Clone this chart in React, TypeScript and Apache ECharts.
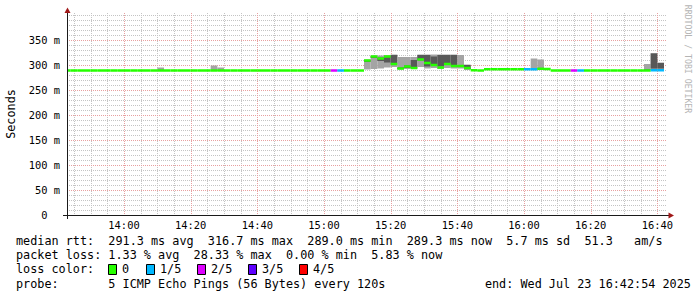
import React, { useEffect, useRef } from "react";
import * as echarts from "echarts";

// x values: minutes after 13:00 on Wed Jul 23 2025; one RRD step = 2 minutes
const START = 42.9; // 13:42:54
const END = 222.9; // 16:42:54
const STEP = 2;

const stepMinutes = [
  42, 44, 46, 48, 50, 52, 54, 56, 58, 60,
  62, 64, 66, 68, 70, 72, 74, 76, 78, 80,
  82, 84, 86, 88, 90, 92, 94, 96, 98, 100,
  102, 104, 106, 108, 110, 112, 114, 116, 118, 120,
  122, 124, 126, 128, 130, 132, 134, 136, 138, 140,
  142, 144, 146, 148, 150, 152, 154, 156, 158, 160,
  162, 164, 166, 168, 170, 172, 174, 176, 178, 180,
  182, 184, 186, 188, 190, 192, 194, 196, 198, 200,
  202, 204, 206, 208, 210, 212, 214, 216, 218, 220,
  222,
];

// median rtt in ms
const medianRtt: (number | null)[] = [
  289, 289, 289, 289, 289, 289, 289, 289, 289, 289,
  289, 289, 289, 289, 289, 289, 289, 289, 289, 289,
  289, 289, 289, 289, 289, 289, 289, 289, 289, 289,
  289, 289, 289, 289, 289, 289, 289, 289, 289, 289,
  289, 289, 289, 289, 289, 309, 317, 313, 317, 302,
  293, 297, 294, 311, 304, 300, 295, 302, 298, 298,
  294, 289.5, 289, 291.5, 291.5, 291.5, 291.5, 291.5, 291.5, 291.5,
  291.5, 292.5, 292, 289, 289, 289, 289, 289, 289, 289,
  289, 289, 289, 289, 289, 289, 289, 289, 289.5, 289.5,
  null,
];

// lost pings out of 5
const lossFifths: (number | null)[] = [
  0, 0, 0, 0, 0, 0, 0, 0, 0, 0,
  0, 0, 0, 0, 0, 0, 0, 0, 0, 0,
  0, 0, 0, 0, 0, 0, 0, 0, 0, 0,
  0, 0, 0, 0, 0, 0, 0, 0, 0, 0,
  2, 1, 0, 0, 0, 0, 0, 0, 0, 0,
  0, 0, 0, 0, 0, 0, 0, 0, 0, 0,
  0, 0, 0, 0, 0, 0, 0, 0, 0, 1,
  1, 0, 0, 0, 0, 0, 2, 1, 0, 0,
  0, 0, 0, 0, 0, 0, 0, 0, 1, 1,
  null,
];

// smoke (sorted pings): min, 2nd, 4th, max (ms) for steps where it is visible
const smokeStep = [70, 86, 88, 132, 134, 136, 138, 140, 142, 144, 146, 148, 150, 152, 154, 156, 158, 160, 162, 182, 184, 216, 218, 220];
const smokeMin = [289, 289, 289, 291, 292, 293, 295, 296, 291, 292, 292, 296, 293, 294, 292, 294, 293, 293, 290, 290, 291, 289, 290, 290];
const smokeLow = [289, 289, 289, 306, 314, 308, 305, 301, 292, 294, 295, 309, 297, 301, 297, 303, 299, 296, 292, 291, 292, 290, 293, 293];
const smokeHigh = [290, 290, 290, 310, 318, 315, 318, 320, 295, 299, 310, 320, 320, 317, 320, 320, 320, 299, 300, 292, 293, 291, 323, 304];
const smokeMax = [295, 299, 295, 311, 319, 319, 320, 321, 316, 316, 316, 321, 321, 321, 321, 321, 321, 320, 301, 313, 311, 302, 324, 305];

// grid / tick values
const xMajor = [60, 80, 100, 120, 140, 160, 180, 200, 220];
const xMinor = [45, 50, 55, 65, 70, 75, 85, 90, 95, 105, 110, 115, 125, 130, 135, 145, 150, 155, 165, 170, 175, 185, 190, 195, 205, 210, 215];
const yMajor = [50, 100, 150, 200, 250, 300, 350];
const yMinor = [10, 20, 30, 40, 60, 70, 80, 90, 110, 120, 130, 140, 160, 170, 180, 190, 210, 220, 230, 240, 260, 270, 280, 290, 310, 320, 330, 340, 360, 370, 380, 390, 400];
const yTickLabels = [0, 50, 100, 150, 200, 250, 300, 350];
const Y_UNIT = "m";

const lossLegend = [
  { label: "0", color: "#26ff00" },
  { label: "1/5", color: "#00b8ff" },
  { label: "2/5", color: "#dd00ff" },
  { label: "3/5", color: "#5e00ff" },
  { label: "4/5", color: "#ff0000" },
];
const LOSS_COLORS = ["#26ff00", "#00b8ff", "#dd00ff", "#5e00ff", "#ff0000"];

const MONO = '"DejaVu Sans Mono", "Liberation Mono", monospace';
const LEG_FS = 11.8;
const CW = LEG_FS * 0.6021;
const LEG_X = 16;
const AX_FS = 10.4;
const AX_CW = AX_FS * 0.6021;

const legendRows: { y: number; tokens: [number, string][] }[] = [
  {
    y: 241,
    tokens: [
      [0, "median rtt:"], [13, "291.3 ms avg"], [27, "316.7 ms max"], [41, "289.0 ms min"],
      [55, "289.3 ms now"], [69, "5.7 ms sd"], [80, "51.3"], [87, "am/s"],
    ],
  },
  {
    y: 255,
    tokens: [[0, "packet loss:"], [13, "1.33 % avg"], [25, "28.33 % max"], [38, "0.00 % min"], [50, "5.83 % now"]],
  },
  { y: 269, tokens: [[0, "loss color:"]] },
  {
    y: 283.5,
    tokens: [[0, "probe:"], [13, "5 ICMP Echo Pings (56 Bytes) every 120s"], [66, "end: Wed Jul 23 16:42:54 2025"]],
  },
];
const lossBoxX = [108, 146, 197, 248, 299];

function fmtTime(v: number) {
  const h = 13 + Math.floor(v / 60);
  const m = Math.round(v % 60);
  return `${h}:${m < 10 ? "0" + m : m}`;
}

// half-height of the median band, in ms (SmokePing draws median as a thin area)
const SW = 2.5;

export default function App() {
  const ref = useRef<HTMLDivElement>(null);
  useEffect(() => {
    if (!ref.current) return;
    const chart = echarts.init(ref.current, undefined, { renderer: "svg" });

    const medianData: number[][] = [];
    stepMinutes.forEach((t, i) => {
      const v = medianRtt[i];
      const l = lossFifths[i];
      if (v != null && l != null) medianData.push([t, v, l]);
    });
    const smokeData = smokeStep.map((t, i) => [t, smokeMin[i], smokeLow[i], smokeHigh[i], smokeMax[i]]);

    const graphics: any[] = [];
    legendRows.forEach((row) => {
      row.tokens.forEach(([col, text]) => {
        graphics.push({
          type: "text",
          x: LEG_X + col * CW,
          y: row.y,
          style: {
            text,
            fontFamily: MONO,
            fontSize: LEG_FS,
            fill: "#000",
            textVerticalAlign: "middle",
            verticalAlign: "middle",
          },
        });
      });
    });
    lossLegend.forEach((e, i) => {
      graphics.push({
        type: "rect",
        shape: { x: lossBoxX[i] + 0.5, y: 264.5, width: 8, height: 10 },
        style: { fill: e.color, stroke: "#000", lineWidth: 1 },
      });
      graphics.push({
        type: "text",
        x: lossBoxX[i] + 14,
        y: 269,
        style: {
          text: e.label,
          fontFamily: MONO,
          fontSize: LEG_FS,
          fill: "#000",
          textVerticalAlign: "middle",
          verticalAlign: "middle",
        },
      });
    });
    // axis title
    graphics.push({
      type: "text",
      x: 11,
      y: 114,
      rotation: Math.PI / 2,
      style: {
        text: "Seconds",
        fontFamily: MONO,
        fontSize: LEG_FS,
        fill: "#000",
        textAlign: "center",
        align: "center",
        textVerticalAlign: "middle",
        verticalAlign: "middle",
      },
    });
    // axes lines and arrows
    graphics.push({
      type: "line",
      shape: { x1: 67.5, y1: 219, x2: 67.5, y2: 12 },
      style: { stroke: "#1a1a1a", lineWidth: 1 },
      z: 10,
    });
    graphics.push({
      type: "line",
      shape: { x1: 63, y1: 215.5, x2: 669, y2: 215.5 },
      style: { stroke: "#1a1a1a", lineWidth: 1 },
      z: 10,
    });
    graphics.push({
      type: "polygon",
      shape: { points: [[64.5, 13], [70.5, 13], [67.5, 7.5]] },
      style: { fill: "#a01818" },
      z: 10,
    });
    graphics.push({
      type: "polygon",
      shape: { points: [[668.5, 212.5], [668.5, 218.5], [674, 215.5]] },
      style: { fill: "#a01818" },
      z: 10,
    });
    graphics.push({
      type: "text",
      x: 688,
      y: 59,
      rotation: -Math.PI / 2,
      style: {
        text: "RRDTOOL / TOBI OETIKER",
        fontFamily: MONO,
        fontSize: 8.2,
        fill: "#b4b4b4",
        textAlign: "center",
        align: "center",
        textVerticalAlign: "middle",
        verticalAlign: "middle",
      },
    });

    const DOT = [1, 1];
    const gridSeries = (data: number[][], vertical: boolean, color: string) => ({
      type: "custom",
      z: 1,
      silent: true,
      clip: false,
      data,
      renderItem: (params: any, api: any) => {
        const cs = params.coordSys;
        if (vertical) {
          const x = Math.round(api.coord([api.value(0), 0])[0]) + 0.5;
          return {
            type: "line",
            shape: { x1: x, y1: cs.y, x2: x, y2: cs.y + cs.height },
            style: { stroke: color, fill: "none", lineWidth: 1, lineDash: DOT },
          };
        }
        const y = Math.round(api.coord([START, api.value(1)])[1]) + 0.5;
        return {
          type: "line",
          shape: { x1: cs.x, y1: y, x2: cs.x + cs.width, y2: y },
          style: { stroke: color, fill: "none", lineWidth: 1, lineDash: DOT },
        };
      },
    });

    const option: any = {
      animation: false,
      backgroundColor: "#ffffff",
      grid: { left: 67, top: 13, width: 600, height: 202, containLabel: false },
      xAxis: {
        type: "value",
        min: START,
        max: END,
        axisLine: { show: false },
        splitLine: { show: false },
        axisTick: { show: false },
        axisLabel: {
          customValues: xMajor,
          formatter: (v: number) => fmtTime(v),
          fontFamily: MONO,
          fontSize: AX_FS,
          color: "#000",
          margin: 5,
        },
      },
      yAxis: {
        type: "value",
        min: 0,
        max: 404,
        axisLine: { show: false },
        splitLine: { show: false },
        axisTick: { show: false },
        axisLabel: { show: false },
      },
      graphic: graphics,
      series: [
        gridSeries(xMinor.map((v) => [v, 0]), true, "#c4c4c4"),
        gridSeries(yMinor.map((v) => [START, v]), false, "#c4c4c4"),
        gridSeries(xMajor.map((v) => [v, 0]), true, "#e8a0a0"),
        gridSeries(yMajor.map((v) => [START, v]), false, "#e8a0a0"),
        {
          // y tick labels, placed through the y scale
          type: "custom",
          z: 5,
          silent: true,
          clip: false,
          data: yTickLabels.map((v) => [START, v]),
          renderItem: (params: any, api: any) => {
            const cs = params.coordSys;
            const v = api.value(1);
            const y = api.coord([START, v])[1];
            const text = v === 0 ? "0" : `${v} ${Y_UNIT}`;
            const right = cs.x - 7 - (v === 0 ? 2 * AX_CW : 0);
            return {
              type: "text",
              x: right,
              y,
              style: {
                text,
                fontFamily: MONO,
                fontSize: AX_FS,
                fill: "#000000",
                textAlign: "right",
                align: "right",
                textVerticalAlign: "middle",
                verticalAlign: "middle",
              },
            };
          },
        },
        {
          type: "custom",
          z: 2,
          clip: true,
          silent: true,
          data: smokeData,
          renderItem: (params: any, api: any) => {
            const t = api.value(0);
            const a = api.coord([t, api.value(1)]);
            const b = api.coord([t + STEP, api.value(4)]);
            const c = api.coord([t, api.value(2)]);
            const d = api.coord([t + STEP, api.value(3)]);
            return {
              type: "group",
              children: [
                { type: "rect", shape: { x: a[0], y: b[1], width: b[0] - a[0], height: a[1] - b[1] }, style: { fill: "#a4a4a4" } },
                { type: "rect", shape: { x: c[0], y: d[1], width: d[0] - c[0], height: c[1] - d[1] }, style: { fill: "#585858" } },
              ],
            };
          },
        },
        {
          type: "custom",
          z: 3,
          clip: true,
          silent: true,
          data: medianData,
          renderItem: (params: any, api: any) => {
            const t = api.value(0);
            const v = api.value(1);
            const loss = api.value(2);
            const hi = api.coord([t, v + SW]);
            const lo = api.coord([t + STEP, v - SW]);
            return {
              type: "rect",
              shape: { x: hi[0], y: hi[1], width: lo[0] - hi[0], height: lo[1] - hi[1] },
              style: { fill: LOSS_COLORS[loss] },
            };
          },
        },
      ],
    };
    chart.setOption(option);
    return () => chart.dispose();
  }, []);

  return (
    <div
      ref={ref}
      style={{ position: "fixed", left: 0, top: 0, width: 697, height: 297, background: "#fff" }}
    />
  );
}
